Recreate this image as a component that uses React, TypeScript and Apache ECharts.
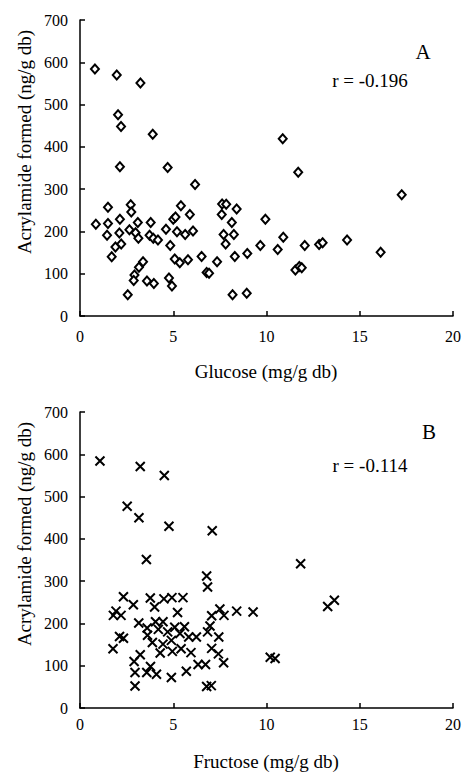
import React, { useEffect, useRef } from "react";
import * as echarts from "echarts";

// Panel A: glucose (mg/g db) vs acrylamide (ng/g db)
const glucoseX = [0.8, 1.97, 3.24, 2.04, 2.2, 3.9, 2.14, 4.7, 6.17, 1.5, 2.72, 2.75, 2.14, 0.85, 1.5, 3.1, 3.79, 1.45, 2.11, 2.65, 2.98, 3.13, 3.73, 3.93, 4.18, 1.9, 2.21, 1.7, 2.92, 3.16, 3.38, 2.88, 3.59, 3.96, 2.56, 4.61, 5.41, 5.0, 5.12, 5.89, 5.2, 5.64, 6.06, 4.84, 5.08, 5.35, 5.79, 4.77, 4.93, 6.52, 6.79, 6.92, 7.35, 7.62, 7.84, 7.6, 8.4, 8.14, 7.7, 8.25, 7.81, 8.3, 8.97, 9.67, 9.94, 8.18, 8.94, 10.87, 11.7, 17.25, 10.6, 10.9, 12.05, 12.82, 13.01, 14.32, 16.12, 11.55, 11.76, 11.89];
const glucoseY = [584, 570, 551, 476, 448, 430, 353, 351, 311, 257, 263, 246, 229, 217, 219, 221, 221, 191, 196, 204, 197, 184, 191, 184, 180, 163, 170, 140, 97, 115, 128, 84, 83, 77, 50, 205, 261, 229, 234, 240, 199, 193, 201, 167, 135, 126, 133, 90, 71, 141, 103, 101, 128, 265, 264, 240, 253, 221, 193, 193, 170, 141, 148, 167, 229, 50, 54, 419, 340, 287, 157, 186, 167, 169, 173, 180, 151, 109, 117, 114];

// Panel B: fructose (mg/g db) vs acrylamide (ng/g db)
const fructoseX = [1.07, 3.23, 4.52, 2.53, 3.16, 4.77, 7.09, 3.56, 6.79, 6.84, 2.33, 2.86, 3.77, 4.0, 4.5, 4.93, 5.52, 5.23, 1.93, 1.79, 2.2, 7.5, 7.06, 7.72, 8.4, 9.28, 3.15, 3.6, 4.05, 4.45, 5.08, 5.6, 6.97, 6.84, 2.12, 2.33, 1.77, 3.62, 3.88, 4.45, 5.36, 5.83, 6.24, 7.44, 4.3, 4.95, 5.42, 5.95, 7.06, 7.42, 3.23, 2.9, 3.78, 7.7, 6.33, 6.73, 5.7, 2.95, 3.58, 4.1, 4.9, 2.95, 7.04, 6.79, 11.83, 13.28, 13.64, 10.46, 10.2, 4.2, 4.7, 4.9];
const fructoseY = [584, 571, 550, 477, 450, 430, 419, 351, 312, 286, 263, 244, 260, 239, 258, 261, 261, 226, 229, 219, 219, 234, 218, 219, 229, 227, 201, 189, 204, 204, 191, 192, 194, 180, 169, 165, 140, 172, 155, 151, 176, 168, 168, 168, 130, 134, 140, 131, 141, 128, 126, 110, 98, 107, 103, 103, 87, 84, 84, 80, 72, 52, 53, 51, 341, 240, 255, 117, 120, 186, 180, 160];

const yTicks = [0, 700, 100];
const xTicks = [0, 20, 5];

const FONT = "Liberation Serif";

function pairs(xs: number[], ys: number[]) {
  return xs.map((x, i) => [x, ys[i]]);
}

export default function App() {
  const ref = useRef<HTMLDivElement>(null);
  useEffect(() => {
    if (!ref.current) return;
    const chart = echarts.init(ref.current, null, { renderer: "svg" });
    const axisCommon = {
      axisLine: { show: true, lineStyle: { color: "#000", width: 1.5 } },
      axisTick: { show: true, inside: true, length: 5, lineStyle: { color: "#000", width: 1.5 } },
      splitLine: { show: false },
      axisLabel: { color: "#000", fontFamily: FONT, fontSize: 16 },
    };
    const xAxis = (gi: number, margin: number) => ({
      type: "value",
      gridIndex: gi,
      min: xTicks[0],
      max: xTicks[1],
      interval: xTicks[2],
      ...axisCommon,
      axisLabel: { ...axisCommon.axisLabel, margin },
    });
    const yAxis = (gi: number) => ({
      type: "value",
      gridIndex: gi,
      min: yTicks[0],
      max: yTicks[1],
      interval: yTicks[2],
      ...axisCommon,
      axisLabel: { ...axisCommon.axisLabel, margin: 12 },
    });
    const textStyle = (text: string, size: number) => ({
      text,
      font: `${size}px "${FONT}"`,
      fill: "#000",
      align: "center",
      verticalAlign: "middle",
    });
    chart.setOption({
      animation: false,
      backgroundColor: "#fff",
      grid: [
        { left: 80, width: 373, top: 20, height: 296 },
        { left: 80, width: 373, top: 412, height: 296 },
      ],
      xAxis: [xAxis(0, 12), xAxis(1, 8)],
      yAxis: [yAxis(0), yAxis(1)],
      series: [
        {
          type: "scatter",
          xAxisIndex: 0,
          yAxisIndex: 0,
          symbol: "diamond",
          symbolSize: [8, 9],
          itemStyle: { color: "#fff", borderColor: "#000", borderWidth: 2, opacity: 1 },
          data: pairs(glucoseX, glucoseY),
        },
        {
          type: "scatter",
          xAxisIndex: 1,
          yAxisIndex: 1,
          symbol: "path://M0 0L10 10M10 0L0 10",
          symbolSize: 9,
          itemStyle: { color: "rgba(0,0,0,0)", borderColor: "#000", borderWidth: 2, opacity: 1 },
          data: pairs(fructoseX, fructoseY),
        },
      ],
      graphic: [
        { type: "text", x: 423, y: 52, style: textStyle("A", 21) },
        { type: "text", x: 370, y: 80, style: textStyle("r = -0.196", 19) },
        { type: "text", x: 429, y: 432, style: textStyle("B", 21) },
        { type: "text", x: 370, y: 465, style: textStyle("r = -0.114", 19) },
        { type: "text", x: 266, y: 371, style: textStyle("Glucose (mg/g db)", 19) },
        { type: "text", x: 266, y: 761, style: textStyle("Fructose (mg/g db)", 19) },
        { type: "text", x: 24, y: 142, rotation: Math.PI / 2, style: textStyle("Acrylamide formed (ng/g db)", 19) },
        { type: "text", x: 24, y: 534, rotation: Math.PI / 2, style: textStyle("Acrylamide formed (ng/g db)", 19) },
      ],
    });
    return () => chart.dispose();
  }, []);
  return <div ref={ref} style={{ position: "fixed", left: 0, top: 0, width: 466, height: 775 }} />;
}
